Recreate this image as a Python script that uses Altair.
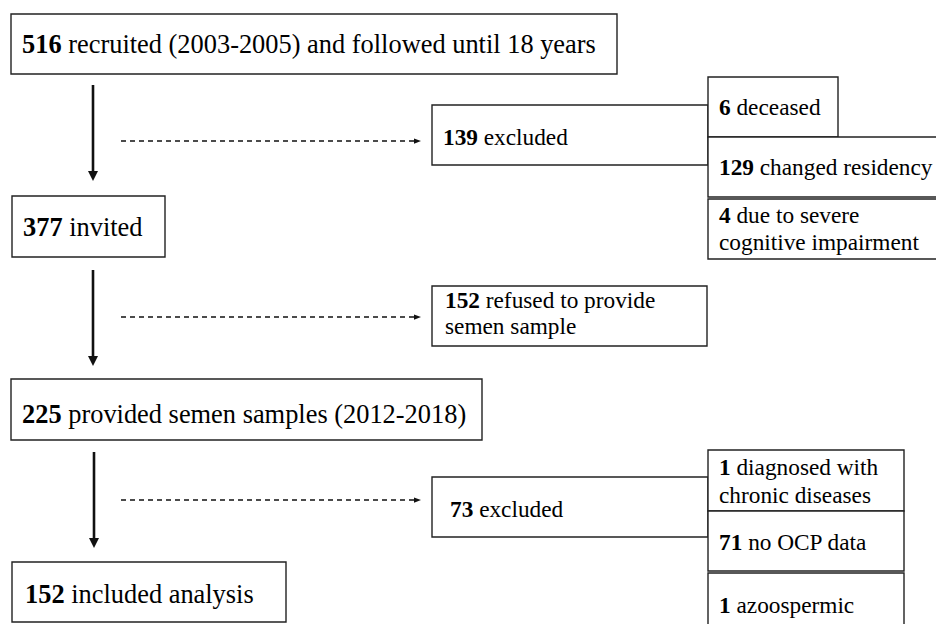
import altair as alt
import pandas as pd

# ---- content ----
counts = ["516", "139", "6", "129", "4", "377", "152", "225", "73", "1", "71", "1", "152"]
labels = [
    "recruited (2003-2005) and followed until 18 years",
    "excluded",
    "deceased",
    "changed residency",
    "due to severe",
    "invited",
    "refused to provide",
    "provided semen samples (2012-2018)",
    "excluded",
    "diagnosed with",
    "no OCP data",
    "azoospermic",
    "included analysis",
]
second_lines = ["cognitive impairment", "semen sample", "chronic diseases"]

# ---- layout (page pixel coordinates) ----
box_ids = ["A", "B", "R1a", "R1b", "R1c", "C", "D", "E", "F", "R2a", "R2b", "R2c", "G"]
box_x0 = [11, 432, 708, 708, 708, 12, 432, 11, 432, 708, 708, 708, 12]
box_y0 = [14, 105, 77, 137, 199, 196, 286, 379, 477, 450, 511, 573, 562]
box_x1 = [617, 708, 838, 960, 960, 165, 707, 482, 708, 904, 904, 904, 286]
box_y1 = [74, 165, 137, 197, 259, 257, 346, 440, 537, 511, 571, 660, 622]

text_x = [22, 443, 719, 719, 719, 23, 445, 22, 450, 719, 719, 719, 25]
text_y = [53, 145, 115, 175, 223, 236, 308, 423, 517, 475, 550, 613, 603]
text_fs = [26.4, 23.3, 23.3, 23.3, 23.3, 26.4, 23.3, 26.4, 23.3, 23.3, 23.3, 23.3, 26.4]

second_x = [719, 445, 719]
second_y = [250, 334, 503]
second_fs = [23.3, 23.3, 23.3]

shaft_x = [93, 93, 94]
shaft_y0 = [85, 270, 452]
shaft_tip = [181, 366, 548]

dash_x0 = [121, 121, 121]
dash_tip = [421, 421, 421]
dash_y = [141, 317, 500]

W, H = 928, 616
xs = alt.Scale(domain=[8, 8 + W], nice=False, zero=False)
ys = alt.Scale(domain=[8, 8 + H], reverse=True, nice=False, zero=False)

def X(f):
    return alt.X(f, type="quantitative", scale=xs, axis=None)

def Y(f):
    return alt.Y(f, type="quantitative", scale=ys, axis=None)

boxes = pd.DataFrame({"id": box_ids, "x0": box_x0, "y0": box_y0, "x1": box_x1, "y1": box_y1})

bold_df = pd.DataFrame({"t": counts, "x": text_x, "y": text_y, "fs": text_fs})
rest_x = [x + len(c) * 0.5 * fs + 0.25 * fs for x, c, fs in zip(text_x, counts, text_fs)]
reg_df = pd.DataFrame({
    "t": labels + second_lines,
    "x": rest_x + second_x,
    "y": text_y + second_y,
    "fs": text_fs + second_fs,
})

shafts = pd.DataFrame({"x": shaft_x, "y0": shaft_y0, "y1": [t - 8 for t in shaft_tip]})
heads_v = pd.DataFrame({"x": shaft_x, "y": [t - 5 for t in shaft_tip]})
dashes = pd.DataFrame({"x0": dash_x0, "x1": [t - 6 for t in dash_tip], "y": dash_y})
heads_h = pd.DataFrame({"x": [t - 3.5 for t in dash_tip], "y": dash_y})

LINE = "#222222"
FONT = "Liberation Serif, Times New Roman, serif"

rects = alt.Chart(boxes).mark_rect(fill="white", stroke=LINE, strokeWidth=1.4).encode(
    x=X("x0"), x2="x1", y=Y("y0"), y2="y1"
)

bold_text = alt.Chart(bold_df).mark_text(
    align="left", baseline="alphabetic", font=FONT, fontWeight="bold", color="#000000"
).encode(x=X("x"), y=Y("y"), text="t:N", size=alt.Size("fs:Q", scale=None))

reg_text = alt.Chart(reg_df).mark_text(
    align="left", baseline="alphabetic", font=FONT, fontWeight="normal", color="#000000"
).encode(x=X("x"), y=Y("y"), text="t:N", size=alt.Size("fs:Q", scale=None))

shaft_rules = alt.Chart(shafts).mark_rule(color="#111111", strokeWidth=2.6).encode(
    x=X("x"), y=Y("y0"), y2="y1"
)
head_v = alt.Chart(heads_v).mark_point(
    shape="M-1,-1L1,-1L0,1Z", filled=True, size=100, color="#111111", opacity=1
).encode(x=X("x"), y=Y("y"))

dash_rules = alt.Chart(dashes).mark_rule(color="#111111", strokeWidth=1.5, strokeDash=[5, 4]).encode(
    x=X("x0"), x2="x1", y=Y("y")
)
head_h = alt.Chart(heads_h).mark_point(
    shape="M-1,-0.75L1,0L-1,0.75Z", filled=True, size=49, color="#111111", opacity=1
).encode(x=X("x"), y=Y("y"))

chart = alt.layer(rects, shaft_rules, head_v, dash_rules, head_h, bold_text, reg_text).properties(
    width=W, height=H, padding=0, background="white",
    autosize=alt.AutoSizeParams(type="none"),
).configure_view(strokeWidth=0)

chart.save("out.html", embed_options={"renderer": "svg", "actions": False})
